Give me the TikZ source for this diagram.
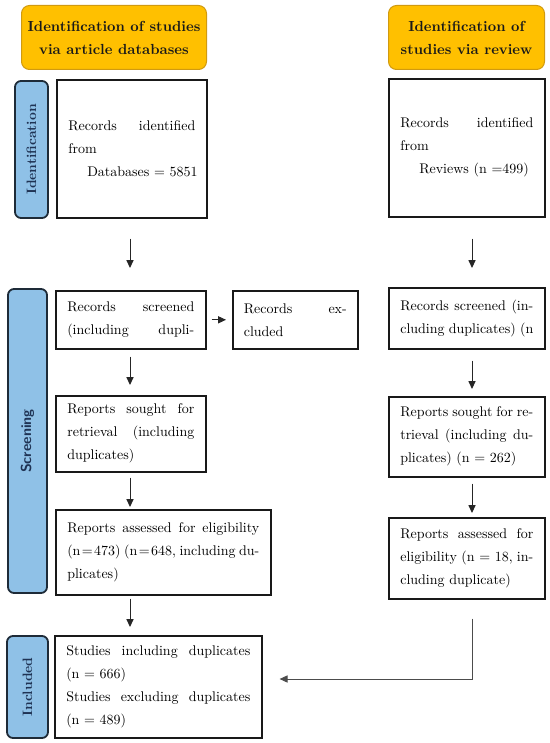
\documentclass[tikz,border=0pt]{standalone}
\usepackage{fontspec}
\setmainfont{lmroman10-regular.otf}[BoldFont=lmroman10-bold.otf]
\setsansfont{lmsans10-regular.otf}[BoldFont=lmsans10-bold.otf]
\usetikzlibrary{arrows.meta}
\definecolor{hdrfill}{HTML}{FFC000}
\definecolor{hdrline}{HTML}{D09A10}
\definecolor{lblfill}{HTML}{8FC1E7}
\definecolor{lblline}{HTML}{1E2B38}
\definecolor{lbltext}{HTML}{1F3354}
\newcommand\tq{\hspace{0.1em}=\hspace{0.1em}}
\begin{document}
\begin{tikzpicture}[x=0.5pt,y=-0.5pt,
  txt/.style={font=\fontsize{7}{11.5}\selectfont},
  hdr/.style={draw=hdrline, fill=hdrfill, line width=0.5pt, rounded corners=4pt,
    anchor=north west, align=center, inner sep=0pt,
    font=\fontsize{7.3}{11.5}\selectfont\bfseries, text=black!90},
  lbl/.style={draw=lblline, fill=lblfill, line width=0.9pt, rounded corners=3pt,
    rotate=90, inner sep=0pt, text=lbltext, font=\fontsize{6.8}{8}\selectfont\bfseries},
  stepbox/.style={draw=black!90, line width=0.8pt, anchor=north west,
    inner xsep=5.5pt, inner ysep=0pt, align=left, txt},
  arr/.style={draw=black!85, line width=0.5pt, -{Triangle[length=4pt,width=3.6pt]}}]
\useasboundingbox (0,0) rectangle (550,743);

% headers
\node[hdr, minimum width=92.5pt, minimum height=32pt] (hdrL) at (21,5)
  {Identification of studies\\via article databases};
\node[hdr, minimum width=78pt, minimum height=32pt] (hdrR) at (388,5)
  {Identification of\\studies via review};

% side labels
\node[lbl, minimum width=68.5pt, minimum height=16.5pt] (lblId) at (31.5,149.5) {Identification};
\node[lbl, minimum width=152pt, minimum height=19.5pt, font=\fontsize{7.2}{8}\selectfont\sffamily\bfseries] (lblScr) at (27.5,441) {Screening};
\node[lbl, minimum width=51pt, minimum height=20.5pt] (lblInc) at (27.5,687) {Included};

% left column
\node[stepbox, minimum width=75pt, minimum height=69pt, text width=63.5pt] (recL) at (56,79)
  {Records\hfill identified\\from\\\hspace*{9.5pt}\mbox{Databases = 5851}};
\node[stepbox, minimum width=75pt, minimum height=29pt, text width=63.5pt] (scrL) at (55,290)
  {Records\hfill screened\\(including\hfill dupli-};
\node[stepbox, minimum width=62.5pt, minimum height=29pt, text width=51.5pt] (excl) at (232,290)
  {Records\hfill ex-\\cluded};
\node[stepbox, minimum width=75pt, minimum height=38pt, text width=63.5pt] (soughtL) at (55,395)
  {Reports\hfill sought\hfill for\\retrieval\hfill (including\\duplicates)};
\node[stepbox, minimum width=107.5pt, minimum height=42.5pt, text width=96pt] (assL) at (55,509)
  {Reports\hfill assessed\hfill for\hfill eligibility\\(n\tq473)\hfill (n\tq648,\hfill including\hfill du-\\plicates)};
\node[stepbox, minimum width=103.5pt, minimum height=51pt, text width=92pt] (incl) at (54,635)
  {Studies\hfill including\hfill duplicates\\(n = 666)\\Studies\hfill excluding\hfill duplicates\\(n = 489)};

% right column
\node[stepbox, minimum width=78pt, minimum height=69pt, text width=66.5pt] (recR) at (388,78)
  {Records\hfill identified\\from\\\hspace*{9.5pt}\mbox{Reviews (n =499)}};
\node[stepbox, minimum width=78pt, minimum height=30.5pt, text width=66.5pt] (scrR) at (388,287)
  {Records\hfill screened\hfill (in-\\cluding\hfill duplicates)\hfill (n};
\node[stepbox, minimum width=78pt, minimum height=40pt, text width=66.5pt] (soughtR) at (388,396)
  {Reports\hfill sought\hfill for\hfill re-\\trieval\hfill (including\hfill du-\\plicates) (n = 262)};
\node[stepbox, minimum width=78pt, minimum height=40.5pt, text width=66.5pt] (assR) at (388,517)
  {Reports\hfill assessed\hfill for\\eligibility\hfill (n = 18,\hfill in-\\cluding duplicate)};

% connectors
\coordinate (lx) at (130,0);
\coordinate (rx) at (472,0);
\coordinate (turn) at (472,679);
\draw[arr, shorten <=10pt, shorten >=11pt] (recL.south -| lx) -- (scrL.north -| lx);
\draw[arr, shorten <=10.5pt, shorten >=9.5pt] (recR.south -| rx) -- (scrR.north -| rx);
\draw[arr, shorten <=2.5pt, shorten >=3pt] (scrL.east) -- (excl.west);
\draw[arr, shorten <=3.5pt, shorten >=5pt] (scrL.south -| lx) -- (soughtL.north -| lx);
\draw[arr, shorten <=5.5pt, shorten >=3.5pt] (scrR.south -| rx) -- (soughtR.north -| rx);
\draw[arr, shorten <=2.5pt, shorten >=1pt] (soughtL.south -| lx) -- (assL.north -| lx);
\draw[arr, shorten <=3pt, shorten >=2pt] (soughtR.south -| rx) -- (assR.north -| rx);
\draw[arr, shorten <=1.5pt, shorten >=4pt] (assL.south -| lx) -- (incl.north -| lx);
\draw[arr, draw=black!70, shorten <=9.5pt, shorten >=8.5pt] (assR.south -| rx) -- (turn) -- (incl.east |- turn);
\end{tikzpicture}
\end{document}
